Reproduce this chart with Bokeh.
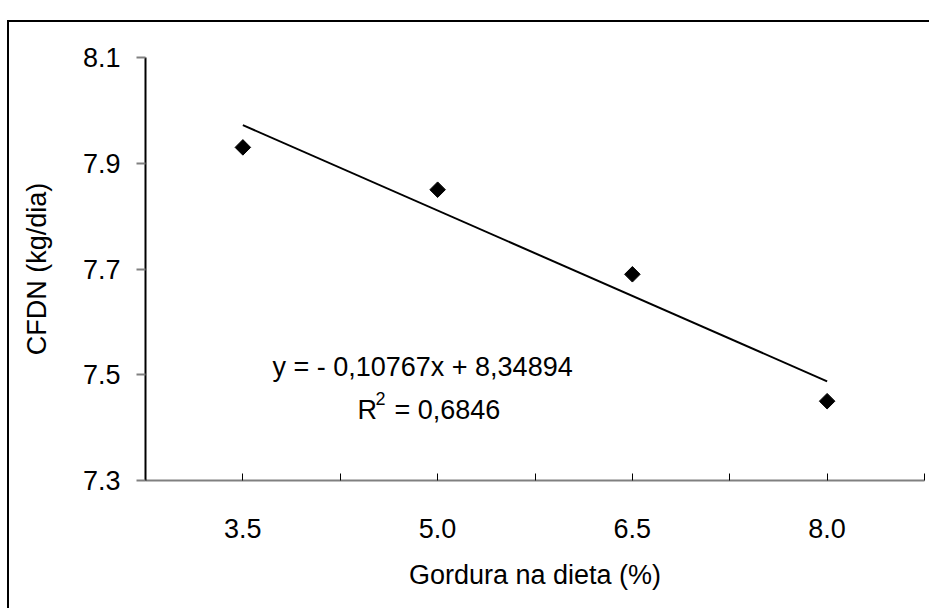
import math
from bokeh.plotting import figure
from bokeh.models import Range1d, FixedTicker, PrintfTickFormatter, Label
from bokeh.embed import file_html
from bokeh.resources import INLINE

# ---- data ----
fat = [3.5, 5.0, 6.5, 8.0]                 # Gordura na dieta (%)
cfdn = [7.93, 7.85, 7.69, 7.45]            # CFDN (kg/dia)
slope = -0.10767
intercept = 8.34894
r2_text = "0,6846"
eq_text = "y = - 0,10767x + 8,34894"
y_ticks = [7.3, 7.5, 7.7, 7.9, 8.1]
x_major = [3.5, 5.0, 6.5, 8.0]
x_minor = [2.75, 4.25, 5.75, 7.25, 8.75]

FONT = "Liberation Sans"
FS = "27px"

p = figure(width=922, height=588, output_backend="svg", toolbar_location=None,
           x_range=Range1d(2.75, 8.75), y_range=Range1d(7.3, 8.1),
           min_border_left=136, min_border_right=7, min_border_top=35, min_border_bottom=130)
p.styles = {"margin-left": "7px", "margin-top": "20px",
            "border-left": "2px solid black", "border-top": "2px solid black"}
p.background_fill_color = "white"
p.border_fill_color = "white"
p.outline_line_color = None
p.xgrid.visible = False
p.ygrid.visible = False

# trend line from the equation
tx = [min(fat), max(fat)]
ty = [slope * v + intercept for v in tx]
p.line(tx, ty, line_color="black", line_width=2)

# points
p.scatter(fat, cfdn, marker="square", angle=math.pi / 4, size=11,
          fill_color="black", line_color="black")

# axes
xa = p.xaxis[0]
xa.ticker = FixedTicker(ticks=x_major, minor_ticks=x_minor)
xa.formatter = PrintfTickFormatter(format="%.1f")
xa.axis_line_color = "#808080"
xa.axis_line_width = 2
xa.major_tick_line_color = "black"
xa.minor_tick_line_color = "black"
xa.major_tick_in = 7
xa.major_tick_out = 0
xa.minor_tick_in = 7
xa.minor_tick_out = 0
xa.major_label_standoff = 38
xa.major_label_text_font = FONT
xa.major_label_text_font_size = FS
xa.major_label_text_color = "black"
xa.axis_label = "Gordura na dieta (%)"
xa.axis_label_text_font = FONT
xa.axis_label_text_font_size = FS
xa.axis_label_text_font_style = "normal"
xa.axis_label_text_color = "black"
xa.axis_label_standoff = 19

ya = p.yaxis[0]
ya.ticker = FixedTicker(ticks=y_ticks, minor_ticks=[])
ya.formatter = PrintfTickFormatter(format="%.1f")
ya.axis_line_color = "black"
ya.axis_line_width = 2
ya.major_tick_line_color = "#808080"
ya.major_tick_line_width = 2
ya.major_tick_in = 0
ya.major_tick_out = 9
ya.minor_tick_line_color = None
ya.major_label_standoff = 16
ya.major_label_text_font = FONT
ya.major_label_text_font_size = FS
ya.major_label_text_color = "black"
ya.axis_label = "CFDN (kg/dia)"
ya.axis_label_text_font = FONT
ya.axis_label_text_font_size = FS
ya.axis_label_text_font_style = "normal"
ya.axis_label_text_color = "black"
ya.axis_label_standoff = 28

# equation annotations
p.add_layout(Label(x=4.884, y=7.5156, text=eq_text, text_font=FONT, text_font_size=FS,
                   text_align="center", text_baseline="middle", text_color="black"))
p.add_layout(Label(x=4.383, y=7.4324, text="R", text_font=FONT, text_font_size=FS,
                   text_align="left", text_baseline="middle", text_color="black"))
p.add_layout(Label(x=4.383, y=7.4324, x_offset=18, y_offset=12, text="2", text_font=FONT,
                   text_font_size="18px", text_align="left", text_baseline="middle",
                   text_color="black"))
p.add_layout(Label(x=4.383, y=7.4324, x_offset=37, text="= " + r2_text, text_font=FONT,
                   text_font_size=FS, text_align="left", text_baseline="middle",
                   text_color="black"))

open("out.html", "w").write(file_html(p, INLINE))
